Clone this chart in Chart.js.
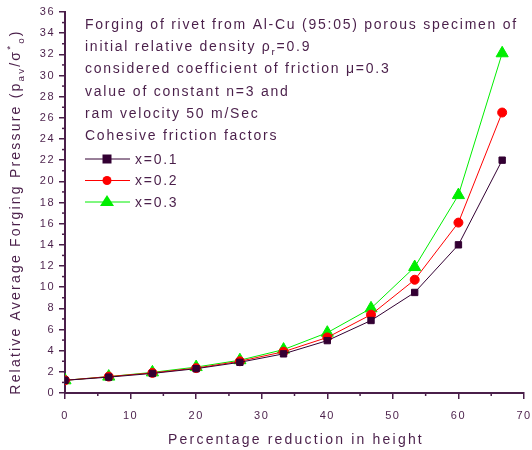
<!DOCTYPE html>
<html>
<head>
<meta charset="utf-8">
<script src="https://cdn.jsdelivr.net/npm/chart.js@4/dist/chart.umd.min.js"></script>
<style>
  html, body { margin: 0; padding: 0; background: #fff; }
  #wrap { width: 532px; height: 450px; }
</style>
</head>
<body>
<div id="wrap"><canvas id="c" width="532" height="450"></canvas></div>
<script>
// ── Data ─────────────────────────────────────────────
const reduction = [0, 6.67, 13.33, 20, 26.67, 33.33, 40, 46.67, 53.33, 60, 66.67];
const x01 = [1.2, 1.5, 1.85, 2.3, 2.9, 3.7, 4.95, 6.85, 9.5, 14.0, 22.0];
const x02 = [1.2, 1.55, 1.9, 2.35, 3.0, 3.9, 5.25, 7.4, 10.7, 16.1, 26.5];
const x03 = [1.2, 1.55, 1.95, 2.45, 3.1, 4.1, 5.7, 8.0, 11.9, 18.7, 32.1];
const seriesNames = ['x=0.1', 'x=0.2', 'x=0.3'];

const INK = '#4a1f4a';
const COLORS = ['#330033', '#ff0000', '#00ee00'];
const FONT = "'Liberation Sans', Arial, sans-serif";

function pts(ys) { return reduction.map((x, i) => ({ x, y: ys[i] })); }

// draws segments [{t, sub, sup}] starting at x,y; returns end x
function richText(ctx, parts, x, y, size) {
  parts.forEach(p => {
    let s = size, dy = 0;
    if (p.sub) { s = size * 0.7; dy = size * 0.35; }
    if (p.sup) { s = size * 0.7; dy = -size * 0.4; }
    ctx.font = s + 'px ' + FONT;
    ctx.fillText(p.t, x, y + dy);
    x += ctx.measureText(p.t).width;
  });
  return x;
}

const overlay = {
  id: 'overlay',
  beforeInit(chart) { chart.ctx.letterSpacing = '1.5px'; },
  beforeDraw(chart) { chart.ctx.letterSpacing = '1.5px'; },
  afterDraw(chart) {
    const ctx = chart.ctx;
    const xs = chart.scales.x, ys = chart.scales.y;
    ctx.save();
    // minor ticks
    ctx.strokeStyle = INK;
    ctx.lineWidth = 1.5;
    for (let v = 1; v < 36; v += 2) {
      const py = ys.getPixelForValue(v);
      ctx.beginPath(); ctx.moveTo(ys.right - 3, py); ctx.lineTo(ys.right, py); ctx.stroke();
    }
    for (let v = 5; v < 70; v += 10) {
      const px = xs.getPixelForValue(v);
      ctx.beginPath(); ctx.moveTo(px, xs.top); ctx.lineTo(px, xs.top + 3); ctx.stroke();
    }

    // notes
    ctx.fillStyle = INK;
    ctx.letterSpacing = '1.75px';
    ctx.textBaseline = 'middle';
    ctx.textAlign = 'left';
    const L = 85, size = 14;
    const lines = [
      [{ t: 'Forging of rivet from Al-Cu (95:05) porous specimen of' }],
      [{ t: 'initial relative density ρ' }, { t: 'r', sub: true }, { t: '=0.9' }],
      [{ t: 'considered coefficient of friction μ=0.3' }],
      [{ t: 'value of constant n=3 and' }],
      [{ t: 'ram velocity 50 m/Sec' }],
      [{ t: 'Cohesive friction factors' }]
    ];
    lines.forEach((ln, i) => richText(ctx, ln, L, 25 + i * 22.3, size));

    // legend
    seriesNames.forEach((name, i) => {
      const y = 159 + i * 21.5;
      ctx.strokeStyle = COLORS[i];
      ctx.lineWidth = 1;
      ctx.beginPath(); ctx.moveTo(L, y); ctx.lineTo(L + 45, y); ctx.stroke();
      ctx.fillStyle = COLORS[i];
      const cx = L + 22;
      ctx.beginPath();
      if (i === 0) ctx.rect(cx - 4.5, y - 4.5, 9, 9);
      else if (i === 1) ctx.arc(cx, y, 4.5, 0, Math.PI * 2);
      else { ctx.moveTo(cx, y - 7); ctx.lineTo(cx + 7, y + 4); ctx.lineTo(cx - 7, y + 4); ctx.closePath(); }
      ctx.fill();
      ctx.fillStyle = INK;
      ctx.font = size + 'px ' + FONT;
      ctx.fillText(name, L + 50, y + 1);
    });

    // x title
    ctx.letterSpacing = '2.2px';
    ctx.font = '14px ' + FONT;
    ctx.textAlign = 'center';
    ctx.fillText('Percentage reduction in height', 296, 440);

    // y title (rotated)
    ctx.translate(16, 212);
    ctx.rotate(-Math.PI / 2);
    ctx.textAlign = 'left';
    const yt = [
      { t: 'Relative Average Forging Pressure (p' }, { t: 'av', sub: true },
      { t: '/σ' }, { t: '*', sup: true }, { t: 'o', sub: true }, { t: ')' }
    ];
    let w = 0;
    yt.forEach(p => {
      ctx.font = ((p.sub || p.sup) ? 14 * 0.7 : 14) + 'px ' + FONT;
      w += ctx.measureText(p.t).width;
    });
    richText(ctx, yt, -w / 2, 0, 14);
    ctx.restore();
  }
};

new Chart(document.getElementById('c'), {
  type: 'line',
  data: {
    datasets: [
      { label: seriesNames[0], data: pts(x01), borderColor: COLORS[0], backgroundColor: COLORS[0],
        pointStyle: 'rect', pointRadius: 4.5, borderWidth: 1 },
      { label: seriesNames[1], data: pts(x02), borderColor: COLORS[1], backgroundColor: COLORS[1],
        pointStyle: 'circle', pointRadius: 4.5, borderWidth: 1 },
      { label: seriesNames[2], data: pts(x03), borderColor: COLORS[2], backgroundColor: COLORS[2],
        pointStyle: 'triangle', pointRadius: 7, borderWidth: 1 }
    ]
  },
  options: {
    responsive: false,
    animation: false,
    layout: { padding: { top: 12, right: 8, left: 0, bottom: 0 } },
    plugins: { legend: { display: false }, tooltip: { enabled: false } },
    elements: { line: { tension: 0 }, point: { borderWidth: 0 } },
    scales: {
      x: {
        type: 'linear', min: 0, max: 70,
        afterFit: s => { s.height = 57; s.paddingRight = 0; s.paddingLeft = 0; },
        ticks: { stepSize: 10, color: INK, font: { family: FONT, size: 11 }, padding: 10 },
        grid: { drawOnChartArea: false, drawTicks: true, tickLength: 6, color: INK, lineWidth: 1.5 },
        border: { color: INK, width: 2 }
      },
      y: {
        min: 0, max: 36,
        afterFit: s => { s.width = 65; s.paddingTop = 0; s.paddingBottom = 0; },
        ticks: { stepSize: 2, color: INK, font: { family: FONT, size: 11 }, padding: 4 },
        grid: { drawOnChartArea: false, drawTicks: true, tickLength: 6, color: INK, lineWidth: 1.5 },
        border: { color: INK, width: 2 }
      }
    }
  },
  plugins: [overlay]
});
</script>
</body>
</html>
